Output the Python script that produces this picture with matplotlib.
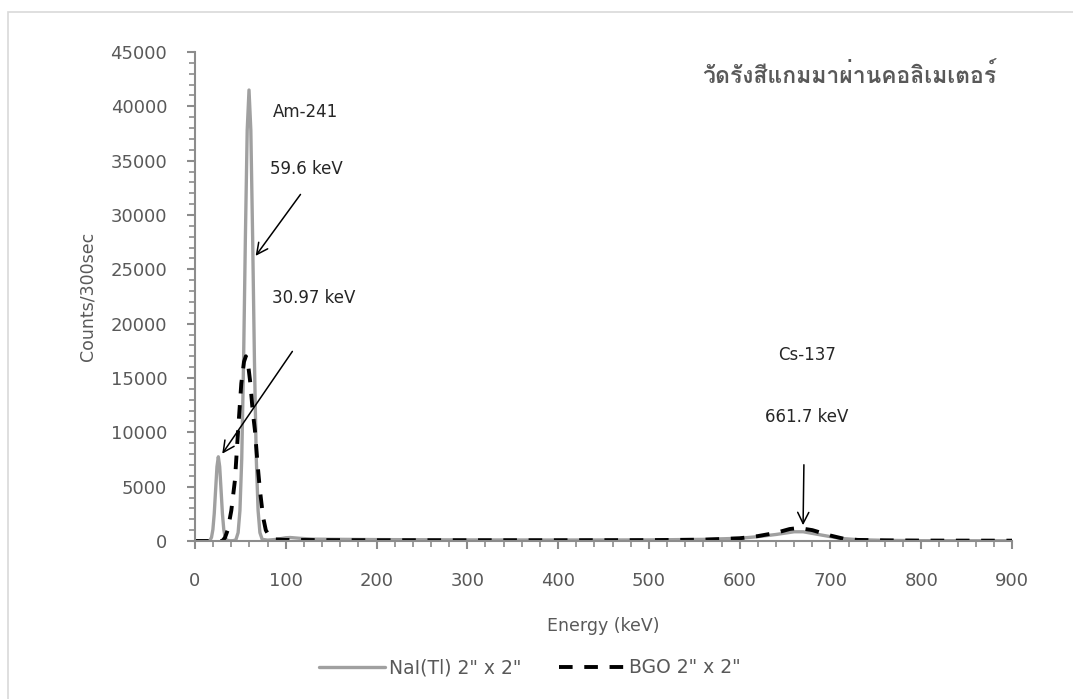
import matplotlib
matplotlib.use('Agg')
import matplotlib.pyplot as plt
from matplotlib import font_manager
from matplotlib.ft2font import FT2Font
from matplotlib.patches import Rectangle
from matplotlib.ticker import MultipleLocator

# Data points
nai_energy = [0, 10, 14.5, 16.7, 18.2, 19.7, 21.2, 22.7, 24.2, 25.7, 27.2, 28.7, 30.2, 31.7,
              33.2, 34.7, 38, 42, 45, 47.5, 49.5, 51.5, 53.5, 55.5, 57.5, 59.5, 61.5, 63.5,
              65.5, 67.5, 69.5, 71.5, 74, 80, 90, 100, 105, 115, 130, 200, 300, 400, 500,
              560, 600, 620, 640, 660, 670, 690, 710, 730, 760, 800, 900]
nai_counts = [0, 0, 0, 85, 340, 1050, 2520, 4700, 6840, 7750, 6840, 4700, 2520, 1050,
              340, 85, 20, 30, 100, 770, 2800, 7600, 16500, 27900, 37800, 41500, 37800, 27900,
              16500, 7600, 2800, 770, 150, 80, 150, 300, 320, 250, 170, 130, 100, 90, 100,
              150, 250, 400, 600, 850, 850, 550, 250, 120, 60, 30, 20]

bgo_energy = [0, 10, 20, 30, 33, 36, 40, 44, 47.5, 51, 54, 56, 58, 61, 63.5, 66, 69, 71.5,
              75, 78, 82, 88, 100, 150, 200, 300, 400, 500, 560, 600, 620, 640, 655, 665,
              680, 700, 715, 730, 760, 800, 900]
bgo_counts = [0, 0, 0, 0, 300, 1000, 2800, 5600, 10200, 14500, 16500, 17000, 16600, 14500,
              12000, 10200, 7000, 4700, 2200, 1000, 400, 150, 100, 80, 70, 70, 70, 80, 120,
              250, 450, 750, 1100, 1200, 1000, 500, 200, 100, 60, 40, 30]

x_ticks = [0, 100, 200, 300, 400, 500, 600, 700, 800, 900]
y_ticks = [0, 5000, 10000, 15000, 20000, 25000, 30000, 35000, 40000, 45000]

title_text = 'วัดรังสีแกมมาผ่านคอลิเมเตอร์'


def thai_family():
    # look for an installed font that has Thai glyphs
    for f in font_manager.fontManager.ttflist:
        try:
            cmap = FT2Font(f.fname).get_charmap()
        except Exception:
            continue
        if 0x0E27 in cmap and 0x0E14 in cmap:
            return f.name
    return 'DejaVu Sans'


thai = thai_family()
plt.rcParams['font.family'] = ['DejaVu Sans', thai]

text_gray = '#595959'
axis_gray = '#8c8c8c'
note_color = '#262626'

fig = plt.figure(figsize=(10.73, 6.99), dpi=100)
fig.patches.append(Rectangle((8 / 1073, -0.1), 1.2, 1 - 12 / 699 + 0.1, transform=fig.transFigure,
                             fill=False, edgecolor='#d9d9d9', linewidth=1.2))
ax = fig.add_axes([195 / 1073, 1 - 541 / 699, 817 / 1073, 489 / 699])

ax.plot(nai_energy, nai_counts, color='#a0a0a0', linewidth=2.4, label='NaI(Tl) 2" x 2"',
        solid_capstyle='round', solid_joinstyle='round')
ax.plot(bgo_energy, bgo_counts, color='black', linewidth=2.8, linestyle=(0, (3.5, 3)),
        label='BGO 2" x 2"')

ax.set_xlim(0, 900)
ax.set_ylim(0, 45000)
ax.set_xticks(x_ticks)
ax.set_yticks(y_ticks)
ax.xaxis.set_minor_locator(MultipleLocator(20))
ax.yaxis.set_minor_locator(MultipleLocator(1000))

for side in ['top', 'right']:
    ax.spines[side].set_visible(False)
for side in ['left', 'bottom']:
    ax.spines[side].set_color(axis_gray)
    ax.spines[side].set_linewidth(1.5)
ax.tick_params(which='major', length=6, width=1.5, color=axis_gray, labelcolor=text_gray,
               labelsize=13)
ax.tick_params(axis='y', which='major', pad=14)
ax.tick_params(axis='x', which='major', pad=16)
ax.tick_params(which='minor', length=4, width=1.2, color=axis_gray)

ax.set_xlabel('Energy (keV)', fontsize=12.5, color=text_gray, labelpad=20)
ax.set_ylabel('Counts/300sec', fontsize=12.5, color=text_gray, labelpad=10)

# Annotations
arrow = dict(arrowstyle='->', color='black', linewidth=1.1, mutation_scale=20)
ax.text(86, 39470, 'Am-241', fontsize=12, va='center', ha='left', color=note_color)
ax.text(83, 34220, '59.6 keV', fontsize=12, va='center', ha='left', color=note_color)
ax.annotate('', xy=(65, 26030), xytext=(118, 32100), arrowprops=arrow)
ax.text(85, 22350, '30.97 keV', fontsize=12, va='center', ha='left', color=note_color)
ax.annotate('', xy=(28.3, 7820), xytext=(109, 17660), arrowprops=arrow)
ax.text(674, 17110, 'Cs-137', fontsize=12, va='center', ha='center', color=note_color)
ax.text(674, 11410, '661.7 keV', fontsize=12, va='center', ha='center', color=note_color)
ax.annotate('', xy=(669.8, 1200), xytext=(670.8, 7270), arrowprops=arrow)

fig.text(849 / 1073, 1 - 75 / 699, title_text, fontsize=16.5, fontweight='bold',
         color=text_gray, ha='center', va='center', family=[thai, 'DejaVu Sans'])

leg = ax.legend(loc='upper center', bbox_to_anchor=(0.41, -0.205), ncol=2, frameon=False,
                fontsize=13.5, handlelength=3.5, columnspacing=2.0, handletextpad=0.25)
for t in leg.get_texts():
    t.set_color(text_gray)

fig.savefig('out.png', dpi=100)
